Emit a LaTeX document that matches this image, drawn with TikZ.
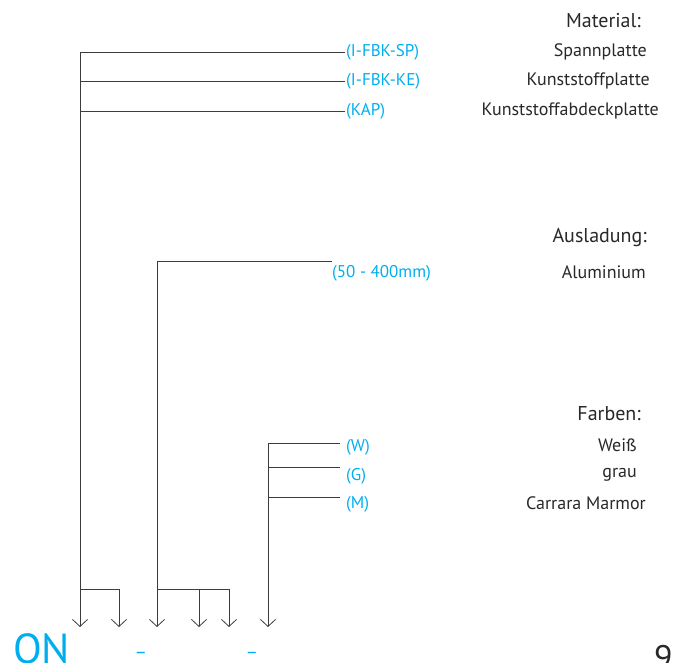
\documentclass[tikz,border=0pt]{standalone}
\usepackage{fontspec}
\setmainfont{PT Sans}
\usetikzlibrary{arrows.meta,positioning}
\definecolor{codeblue}{RGB}{0,174,239}
\definecolor{linegray}{RGB}{60,60,60}
\definecolor{textgray}{RGB}{40,40,40}

\begin{document}
\begin{tikzpicture}[x=1pt, y=-1pt,
    code/.style={anchor=west, inner sep=1pt, text=codeblue, font=\fontsize{17}{19}\selectfont},
    entry/.style={anchor=east, inner sep=1pt, text=textgray, font=\fontsize{18}{20}\selectfont},
    head/.style={entry, font=\fontsize{20}{22}\selectfont},
    branch/.style={draw=linegray, line width=0.8pt},
    pick/.style={branch, -{Straight Barb[length=7pt, width=15pt]}}]
    \useasboundingbox (0,0) rectangle (677,663);

    % arrow ends above the code
    \foreach \x [count=\i] in {80,119,157,199,229,268}
        \coordinate (tip\i) at (\x,627);

    % Material
    \node [head] (matHead) at (642,21) {Material:};
    \node [entry] (matSP) at (648,52) {Spannplatte};
    \node [entry] (matKE) at (651,81) {Kunststoffplatte};
    \node [entry] (matKAP) at (660,111) {Kunststoffabdeckplatte};
    \node [code] (codeSP) at (345,52) {(I-FBK-SP)};
    \node [code] (codeKE) at (345,81) {(I-FBK-KE)};
    \node [code] (codeKAP) at (345,111) {(KAP)};

    % Ausladung
    \node [head] (ausHead) at (648,238) {Ausladung:};
    \node [entry] (ausAlu) at (647,272) {Aluminium};
    \node [code] (codeLen) at (331,273) {(50 - 400mm)};
    \coordinate (lenEnd) at (332,261);

    % Farben
    \node [head] (farHead) at (642,414) {Farben:};
    \node [entry] (farW) at (638,445) {Weiß};
    \node [entry] (farG) at (638,475) {grau};
    \node [entry] (farM) at (647,503) {Carrara Marmor};
    \node [code] (codeW) at (345,447) {(W)};
    \node [code] (codeG) at (345,476) {(G)};
    \node [code] (codeM) at (345,504) {(M)};
    \coordinate (wEnd) at (340,443);
    \coordinate (gEnd) at (340,467);
    \coordinate (mEnd) at (340,497);

    % code line
    \node [anchor=base west, inner sep=0, text=codeblue, font=\fontsize{42}{42}\selectfont] (onLabel) at (13,663) {ON};
    \node [inner sep=0, text=codeblue, font=\fontsize{19}{19}\selectfont] (dash1) at (141,655) {–};
    \node [inner sep=0, text=codeblue, font=\fontsize{19}{19}\selectfont] (dash2) at (252,655) {–};
    \node [anchor=base west, inner sep=0, text=textgray, font=\fontsize{34}{34}\selectfont] (pageNum) at (654,669) {9};

    \draw [pick] (codeSP.west) -| (tip1);
    \draw [branch] (codeKE.west) -- (codeKE.west -| tip1);
    \draw [branch] (codeKAP.west) -- (codeKAP.west -| tip1);
    \coordinate (fork1) at (80,589);
    \draw [pick] (fork1) -| (tip2);

    \draw [pick] (lenEnd) -| (tip3);
    \coordinate (fork2) at (157,589);
    \draw [pick] (fork2) -| (tip5);
    \draw [pick] (fork2 -| tip4) -- (tip4);

    \draw [pick] (wEnd) -| (tip6);
    \draw [branch] (gEnd) -- (gEnd -| tip6);
    \draw [branch] (mEnd) -- (mEnd -| tip6);
\end{tikzpicture}
\end{document}
